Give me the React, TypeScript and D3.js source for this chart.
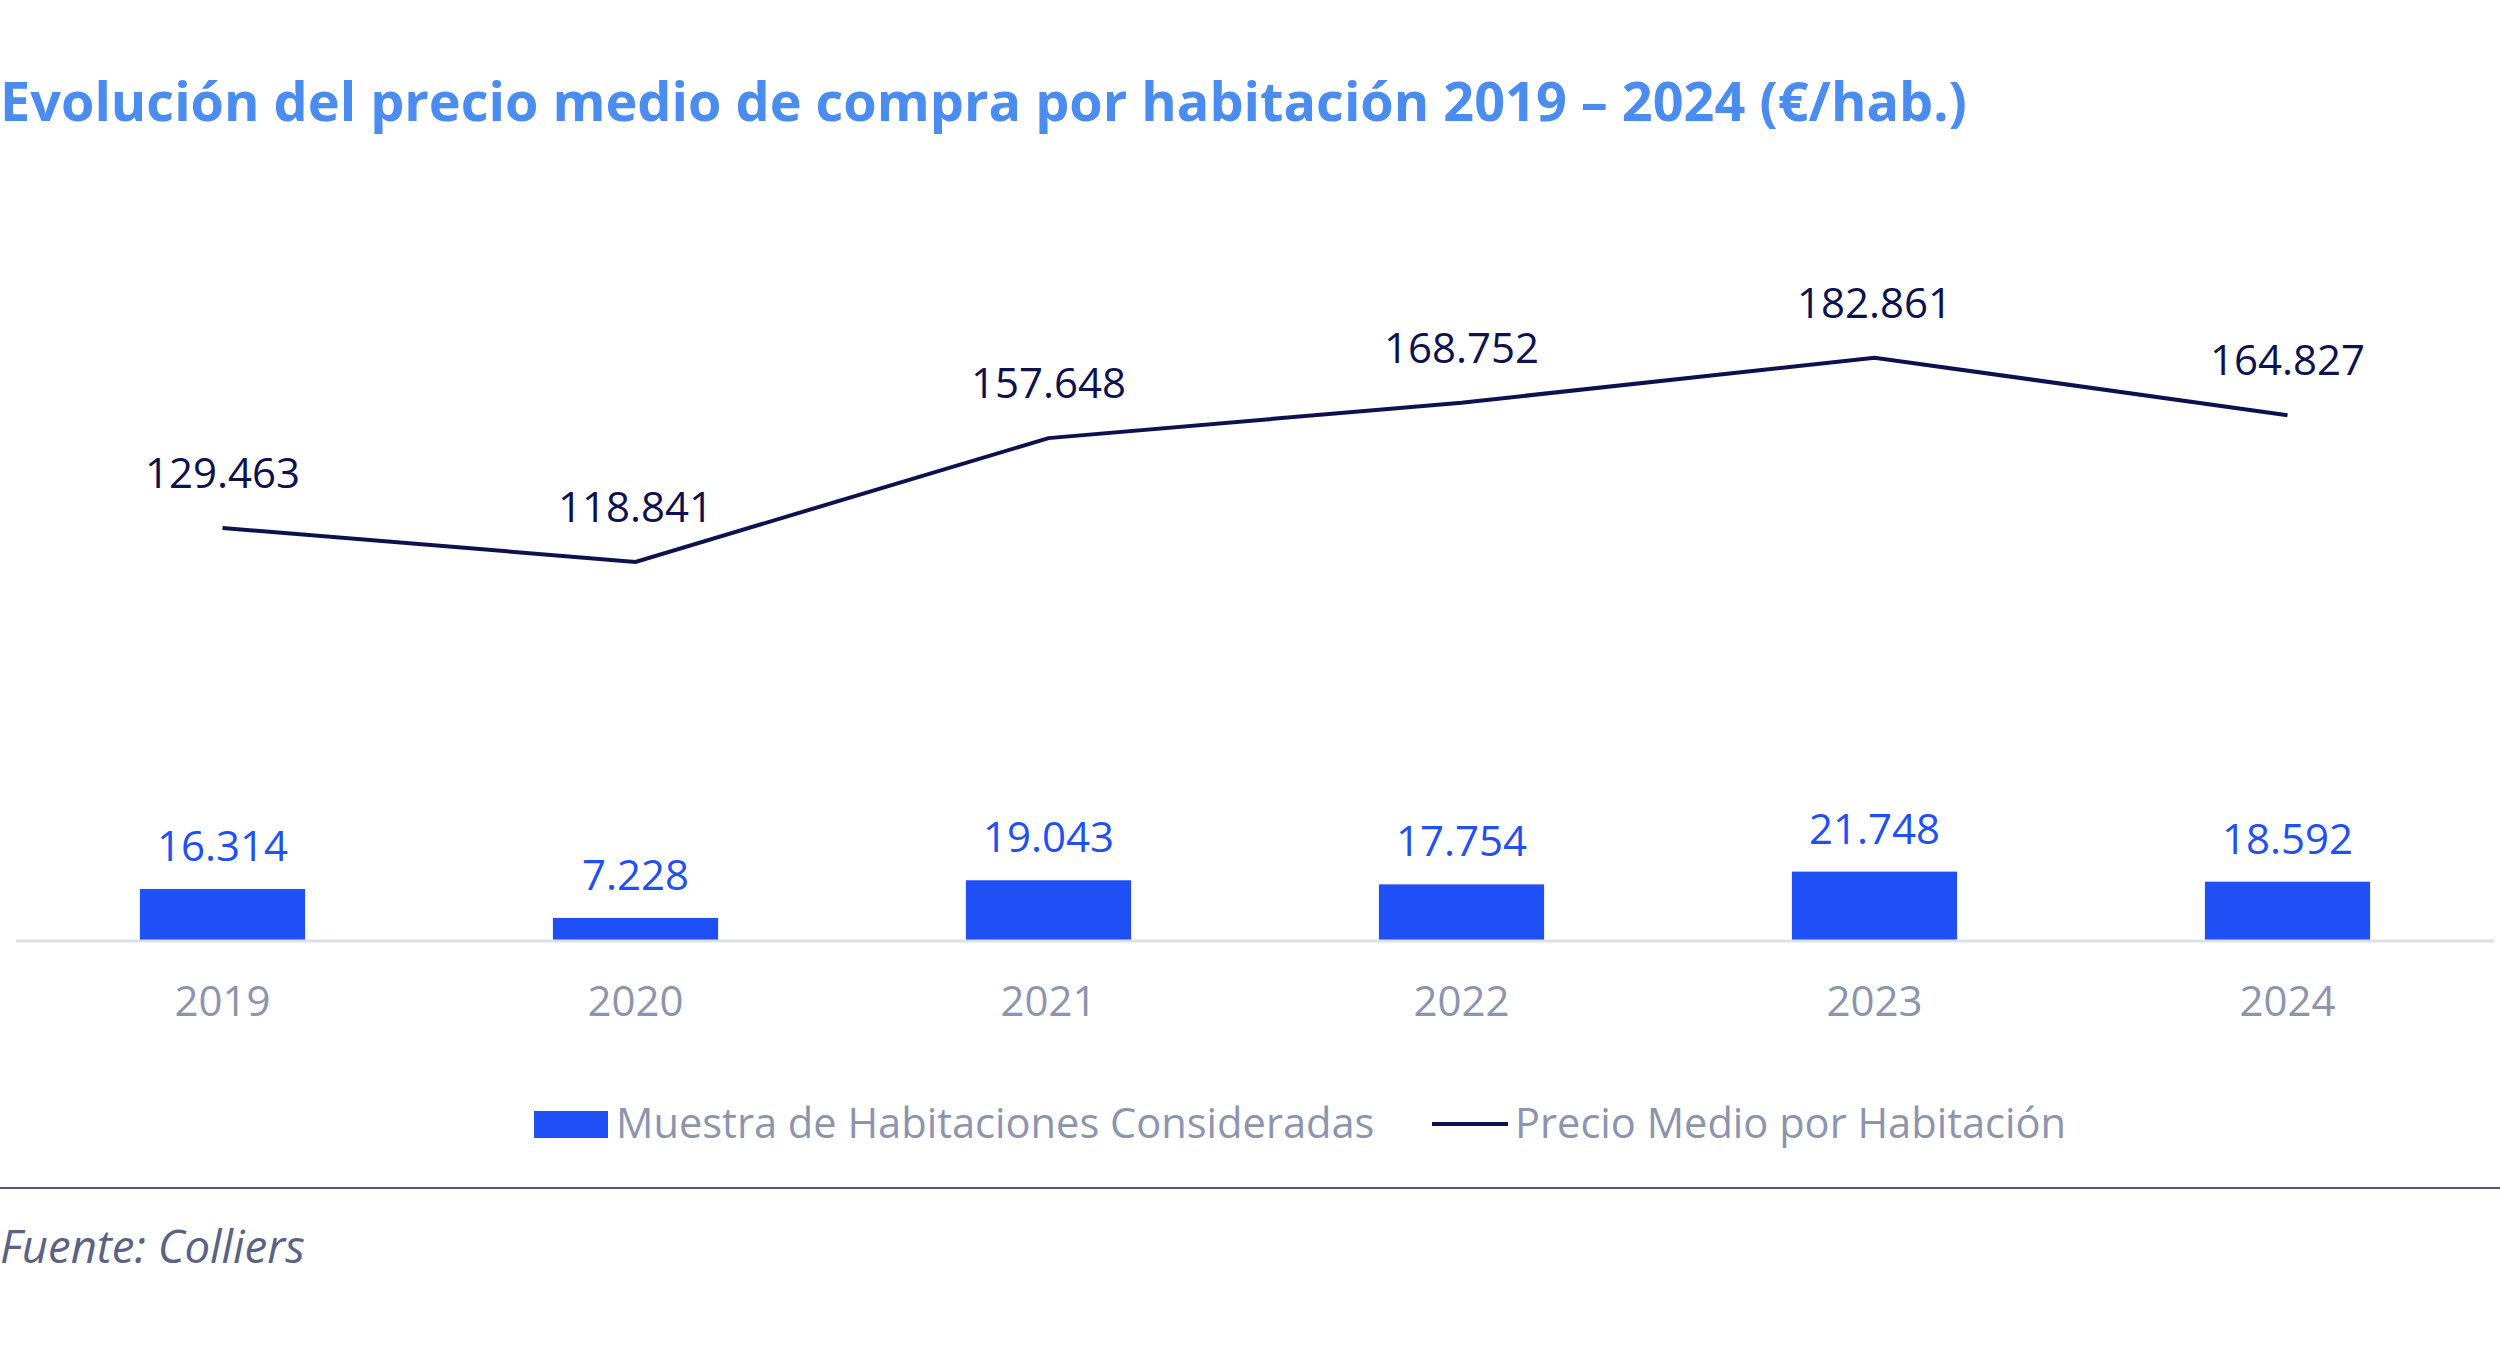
import React from "react";
import * as d3 from "d3";

const years = ["2019", "2020", "2021", "2022", "2023", "2024"];
const muestra = [16314, 7228, 19043, 17754, 21748, 18592];
const precio = [129463, 118841, 157648, 168752, 182861, 164827];
const fmt = (v: number) => d3.format(",")(v).replace(/,/g, ".");

export default function App() {
  const W = 2500, H = 1346;
  const font = "'Open Sans', sans-serif";
  const x = d3.scaleBand().domain(years).range([16, 2494]).paddingInner(0.6).paddingOuter(0.3);
  const y = d3.scaleLinear().domain([0, 200000]).range([941, 303]);
  const cx = (d: string) => (x(d) as number) + x.bandwidth() / 2;
  const line = d3.line<number>().x((_, i) => cx(years[i])).y(v => y(v));
  return (
    <svg width={W} height={H} style={{ position: "absolute", left: 0, top: 0, background: "#fff" }} fontFamily={font}>
      <text x={0} y={121} fontSize={54} fontWeight={700} fill="#4a8cf0">
        Evolución del precio medio de compra por habitación 2019 – 2024 (€/hab.)
      </text>
      {years.map((d, i) => (
        <g key={d}>
          <rect x={x(d)} y={y(muestra[i])} width={x.bandwidth()} height={y(0) - y(muestra[i])} fill="#1f50f5" />
          <text x={cx(d)} y={y(muestra[i]) - 28} fontSize={42} textAnchor="middle" fill="#1f50f5">{fmt(muestra[i])}</text>
          <text x={cx(d)} y={y(precio[i]) - 40} fontSize={42} textAnchor="middle" fill="#0d1150">{fmt(precio[i])}</text>
          <text x={cx(d)} y={1016} fontSize={42} textAnchor="middle" fill="#8c94b0">{d}</text>
        </g>
      ))}
      <line x1={16} x2={2494} y1={941} y2={941} stroke="#dde0e8" strokeWidth={3} />
      <path d={line(precio) || ""} fill="none" stroke="#0d1150" strokeWidth={4} />
      <rect x={534} y={1111} width={74} height={27} fill="#1f50f5" />
      <text x={616} y={1138} fontSize={41.6} fill="#8c94b0">Muestra de Habitaciones Consideradas</text>
      <line x1={1432} x2={1508} y1={1124} y2={1124} stroke="#0d1150" strokeWidth={4} />
      <text x={1515} y={1138} fontSize={41.6} fill="#8c94b0">Precio Medio por Habitación</text>
      <line x1={0} x2={2500} y1={1188} y2={1188} stroke="#4b5578" strokeWidth={2} />
      <text x={0} y={1263} fontSize={45.5} fontStyle="italic" fill="#5a6285">Fuente: Colliers</text>
    </svg>
  );
}
